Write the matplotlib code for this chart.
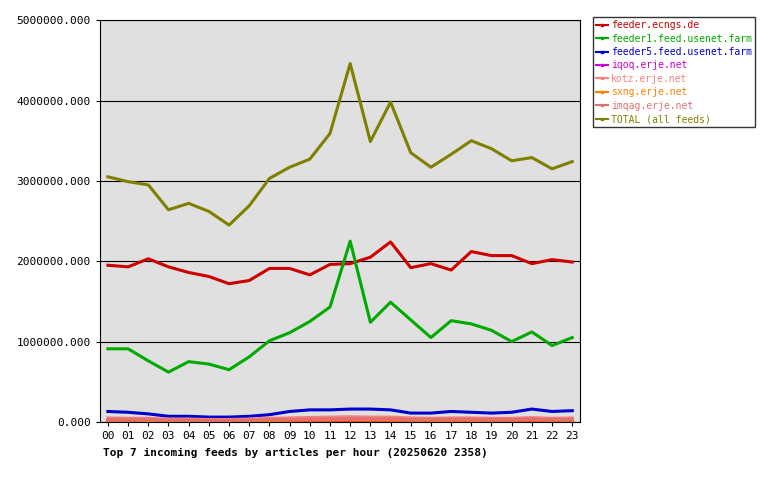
import matplotlib
matplotlib.use('Agg')
import matplotlib.pyplot as plt
from matplotlib.lines import Line2D

hours = ['%02d' % h for h in range(24)]

ecngs = [1950000, 1930000, 2030000, 1930000, 1860000, 1810000, 1720000, 1760000,
         1910000, 1910000, 1830000, 1960000, 1970000, 2050000, 2240000, 1920000,
         1970000, 1890000, 2120000, 2070000, 2070000, 1970000, 2020000, 1990000]
feeder1 = [910000, 910000, 760000, 620000, 750000, 720000, 650000, 810000,
           1010000, 1110000, 1250000, 1430000, 2250000, 1240000, 1490000, 1270000,
           1050000, 1260000, 1220000, 1140000, 1000000, 1120000, 950000, 1050000]
feeder5 = [130000, 120000, 100000, 70000, 70000, 60000, 60000, 70000,
           90000, 130000, 150000, 150000, 160000, 160000, 150000, 110000,
           110000, 130000, 120000, 110000, 120000, 160000, 130000, 140000]
iqoq = [10000, 10000, 10000, 8000, 8000, 8000, 8000, 8000,
        10000, 10000, 12000, 12000, 12000, 12000, 12000, 10000,
        10000, 10000, 10000, 10000, 10000, 12000, 10000, 10000]
kotz = [50000, 45000, 45000, 35000, 35000, 30000, 30000, 35000,
        45000, 50000, 55000, 60000, 65000, 60000, 60000, 50000,
        45000, 50000, 50000, 45000, 45000, 55000, 45000, 50000]
sxng = [20000, 20000, 18000, 15000, 15000, 15000, 15000, 15000,
        18000, 20000, 22000, 22000, 25000, 22000, 22000, 20000,
        20000, 20000, 20000, 20000, 20000, 22000, 20000, 20000]
imqag = [30000, 28000, 28000, 22000, 22000, 20000, 20000, 22000,
         28000, 30000, 35000, 38000, 40000, 38000, 38000, 32000,
         30000, 32000, 32000, 30000, 30000, 35000, 30000, 32000]
total = [3050000, 2990000, 2950000, 2640000, 2720000, 2620000, 2450000, 2690000,
         3030000, 3170000, 3270000, 3590000, 4460000, 3490000, 3980000, 3350000,
         3170000, 3330000, 3500000, 3400000, 3250000, 3290000, 3150000, 3240000]

series = [
    ('feeder.ecngs.de', ecngs, '#cc0000'),
    ('feeder1.feed.usenet.farm', feeder1, '#00aa00'),
    ('feeder5.feed.usenet.farm', feeder5, '#0000cc'),
    ('iqoq.erje.net', iqoq, '#cc00cc'),
    ('kotz.erje.net', kotz, '#ff8080'),
    ('sxng.erje.net', sxng, '#ff8000'),
    ('imqag.erje.net', imqag, '#e07070'),
    ('TOTAL (all feeds)', total, '#808000'),
]

plt.rcParams['font.family'] = 'DejaVu Sans Mono'
fig = plt.figure(figsize=(7.8, 4.8), dpi=100)
ax = fig.add_axes([0.128, 0.121, 0.616, 0.837])
ax.set_facecolor('#e0e0e0')

x = list(range(24))
for name, vals, col in series:
    ax.plot(x, vals, color=col, linewidth=2.2)

ax.set_xlim(-0.4, 23.4)
ax.set_ylim(0, 5000000)
ax.set_xticks(x)
ax.set_xticklabels(hours, fontsize=8)
ax.set_yticks(range(0, 5000001, 1000000))
ax.set_yticklabels(['%d.000' % v for v in range(0, 5000001, 1000000)], fontsize=8)
ax.yaxis.grid(True, color='black', linewidth=0.8)
ax.tick_params(length=3)
for s in ax.spines.values():
    s.set_linewidth(0.8)

fig.text(0.132, 0.05, 'Top 7 incoming feeds by articles per hour (20250620 2358)',
         fontsize=8, fontweight='bold')

handles = [Line2D([0], [0], color=c, linewidth=1.5, marker='s', markersize=2)
           for _, _, c in series]
labels = [n for n, _, _ in series]
leg = fig.legend(handles, labels, loc='upper left', bbox_to_anchor=(0.758, 0.968),
                 fontsize=7, frameon=True, fancybox=False, handlelength=1.2,
                 handletextpad=0.3, borderpad=0.3, labelspacing=0.35,
                 borderaxespad=0.2)
leg.get_frame().set_edgecolor('black')
for t, (_, _, c) in zip(leg.get_texts(), series):
    t.set_color(c)

fig.savefig('out.png', dpi=100)
